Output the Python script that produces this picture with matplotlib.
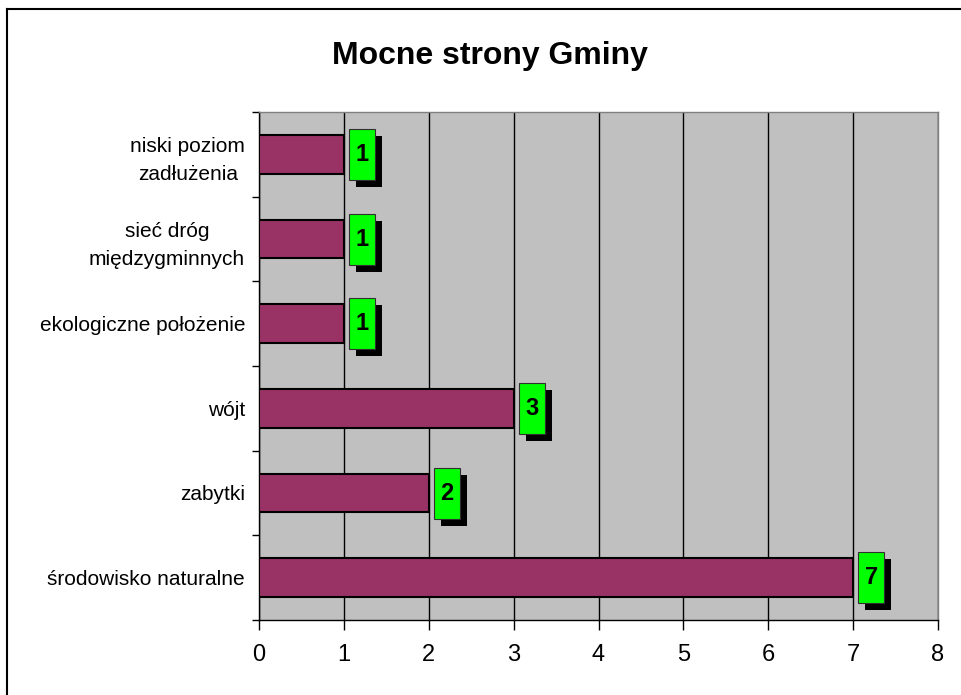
import matplotlib
matplotlib.use("Agg")
import matplotlib.pyplot as plt
import matplotlib.transforms as mtransforms
from matplotlib.patches import Rectangle
from matplotlib.lines import Line2D

plt.rcParams['font.family'] = ['Liberation Sans', 'DejaVu Sans']

categories = ["środowisko naturalne", "zabytki", "wójt", "ekologiczne położenie",
              "sieć dróg\nmiędzygminnych", "niski poziom\nzadłużenia"]
values = [7, 2, 3, 1, 1, 1]
xticks = [0, 1, 2, 3, 4, 5, 6, 7, 8]
title = "Mocne strony Gminy"

W, H = 962, 695
fig = plt.figure(figsize=(W / 100, H / 100), dpi=100)
fig.patch.set_facecolor('white')
ax = fig.add_axes([259 / W, 1 - 620 / H, (938 - 259) / W, (620 - 112) / H])
ax.set_facecolor('#C0C0C0')

ypos = list(range(len(categories)))
ax.barh(ypos, values, height=0.46, color='#993366', edgecolor='black', linewidth=1.5, zorder=3)

ax.set_xlim(0, 8)
ax.set_ylim(-0.5, len(categories) - 0.5)
ax.set_xticks(xticks)
ax.set_xticklabels([str(t) for t in xticks], fontsize=17)
ax.tick_params(axis='x', length=7, width=1, direction='out', pad=10, color='black')
ax.set_yticks(ypos)
ax.set_yticklabels(categories, fontsize=15, multialignment='center', linespacing=1.6)
ax.tick_params(axis='y', length=0, pad=10)
ax.set_yticks([y - 0.5 for y in ypos] + [len(categories) - 0.5], minor=True)
ax.tick_params(axis='y', which='minor', length=5, width=1, color='black')

ax.grid(axis='x', color='black', linewidth=1, zorder=1)
ax.set_axisbelow(True)
for s in ['top', 'right']:
    ax.spines[s].set_color('#808080')
    ax.spines[s].set_linewidth(1)
for s in ['left', 'bottom']:
    ax.spines[s].set_color('black')
    ax.spines[s].set_linewidth(1)

# value labels: green boxes with black drop shadow
bw, bh = 0.26, 0.51
for y, v in zip(ypos, values):
    trans = fig.dpi_scale_trans + mtransforms.ScaledTranslation(v, y, ax.transData)
    shadow = Rectangle((0.05 + 0.07, -bh / 2 - 0.07), bw, bh, transform=trans,
                       facecolor='black', edgecolor='none', zorder=4, clip_on=False)
    box = Rectangle((0.05, -bh / 2), bw, bh, transform=trans,
                    facecolor='#00FF00', edgecolor='#303030', linewidth=0.8, zorder=5, clip_on=False)
    ax.add_patch(shadow)
    ax.add_patch(box)
    ax.text(0.05 + bw / 2, 0.0, str(v), transform=trans, ha='center', va='center',
            fontsize=17, fontweight='bold', zorder=6)

fig.text(490 / W, 1 - 56 / H, title, ha='center', va='center', fontsize=23, fontweight='bold')

# outer frame (left and top visible)
fig.add_artist(Line2D([7 / W, 7 / W], [0, 1 - 9 / H], transform=fig.transFigure, color='black', linewidth=1.5))
fig.add_artist(Line2D([7 / W, 1], [1 - 9 / H, 1 - 9 / H], transform=fig.transFigure, color='black', linewidth=1.5))

fig.savefig('out.png', dpi=100)
